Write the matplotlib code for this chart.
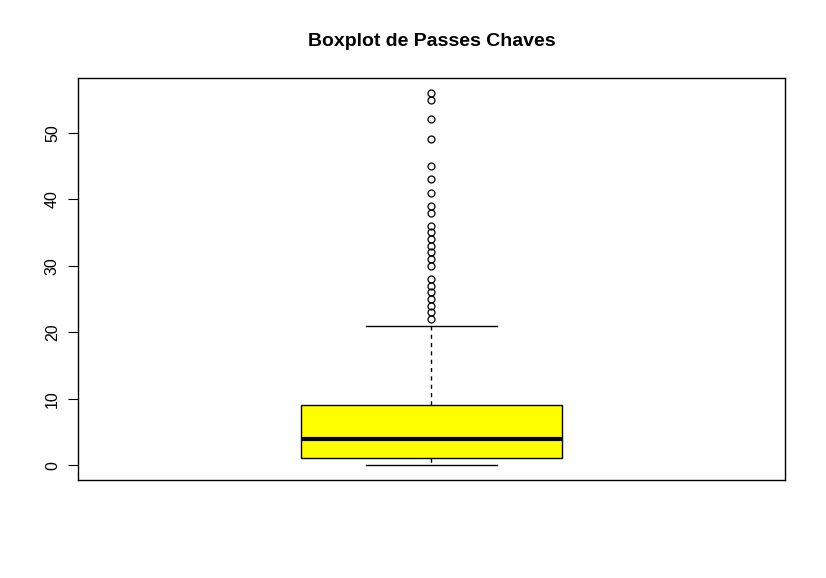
import matplotlib.pyplot as plt

plt.rcParams['font.family'] = ['Liberation Sans', 'DejaVu Sans']

minimo = 0
q1 = 1
mediana = 4
q3 = 9
bigode_sup = 21
outliers = [22, 23, 24, 25, 26, 27, 28, 30, 31, 32, 33, 34, 35, 36,
            38, 39, 41, 43, 45, 49, 52, 55, 56]
yticks = [0, 10, 20, 30, 40, 50]

stats = [{'med': mediana, 'q1': q1, 'q3': q3,
          'whislo': minimo, 'whishi': bigode_sup, 'fliers': outliers}]

fig = plt.figure(figsize=(8.26, 5.78), dpi=100)
ax = fig.add_axes([78 / 826, 1 - 480 / 578, 707 / 826, 402 / 578])

ax.bxp(stats, positions=[1], widths=0.4, capwidths=0.2, patch_artist=True,
       boxprops=dict(facecolor='yellow', edgecolor='black', linewidth=1),
       medianprops=dict(color='black', linewidth=3),
       whiskerprops=dict(color='black', linestyle=(0, (3, 3)), linewidth=1),
       capprops=dict(color='black', linewidth=1),
       flierprops=dict(marker='o', markerfacecolor='none',
                       markeredgecolor='black', markersize=5, markeredgewidth=0.9))

ax.set_xlim(0.46, 1.54)
ax.set_ylim(-2.24, 58.24)
ax.set_xticks([])
ax.set_yticks(yticks)
ax.set_yticklabels([str(t) for t in yticks], rotation=90, va='center', fontsize=11.5)
ax.tick_params(axis='y', length=7, pad=6)
for s in ax.spines.values():
    s.set_linewidth(1)

fig.text((78 + 785) / 2 / 826, 1 - 41 / 578, 'Boxplot de Passes Chaves',
         ha='center', va='center', fontsize=14, fontweight='bold')

fig.savefig('out.png', dpi=100)
